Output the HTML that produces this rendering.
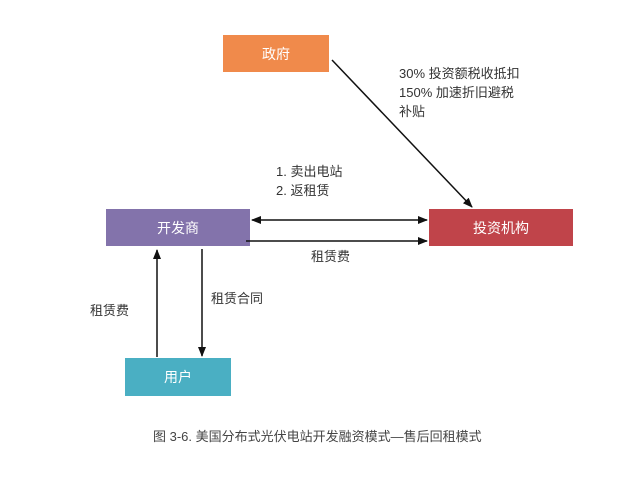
<!DOCTYPE html>
<html><head><meta charset="utf-8"><style>
body{margin:0;width:640px;height:487px;background:#fff;position:relative;overflow:hidden;font-family:"Liberation Sans","Noto Sans CJK SC",sans-serif;color:#333}
.b{position:absolute;color:#fff;font-size:14px;display:flex;align-items:center;justify-content:center}
.t{position:absolute;font-size:13px;line-height:19px;white-space:nowrap}
</style></head><body>
<div class="b" style="left:223px;top:35px;width:106px;height:37px;background:#f08a4b">政府</div>
<div class="b" style="left:106px;top:209px;width:144px;height:37px;background:#8373ab">开发商</div>
<div class="b" style="left:429px;top:209px;width:144px;height:37px;background:#c0444a">投资机构</div>
<div class="b" style="left:125px;top:358px;width:106px;height:38px;background:#4aafc3">用户</div>
<svg width="640" height="487" style="position:absolute;left:0;top:0">
<defs><marker id="a" markerWidth="10" markerHeight="8" refX="9" refY="4" orient="auto-start-reverse" markerUnits="userSpaceOnUse"><path d="M0,0L10,4L0,8z" fill="#111"/></marker></defs>
<g stroke="#111" stroke-width="1.5" fill="none">
<line x1="332" y1="60" x2="472" y2="207" marker-end="url(#a)"/>
<line x1="252" y1="220" x2="427" y2="220" marker-start="url(#a)" marker-end="url(#a)"/>
<line x1="246" y1="241" x2="427" y2="241" marker-end="url(#a)"/>
<line x1="157" y1="357" x2="157" y2="250" marker-end="url(#a)"/>
<line x1="202" y1="249" x2="202" y2="356" marker-end="url(#a)"/>
</g></svg>
<div class="t" style="left:399px;top:64px">30% 投资额税收抵扣<br>150% 加速折旧避税<br>补贴</div>
<div class="t" style="left:276px;top:162px">1. 卖出电站<br>2. 返租赁</div>
<div class="t" style="left:311px;top:247px">租赁费</div>
<div class="t" style="left:211px;top:289px">租赁合同</div>
<div class="t" style="left:90px;top:301px">租赁费</div>
<div class="t" style="left:153px;top:427px;font-size:13px;color:#444">图 3-6. 美国分布式光伏电站开发融资模式—售后回租模式</div>
</body></html>
